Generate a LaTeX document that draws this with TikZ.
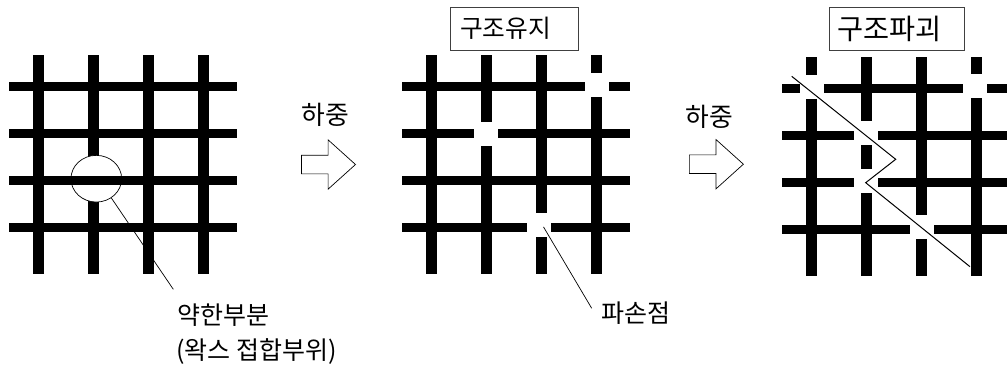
\documentclass[tikz,border=0pt]{standalone}
\usepackage{fontspec}
\setmainfont{Noto Sans CJK KR}
\usepackage{tikz}
\usetikzlibrary{positioning,shapes.arrows,shapes.geometric}
\begin{document}
\begin{tikzpicture}[
  x=1pt, y=-1pt,
  barra/.style={line width=#1, draw=black},
  hueco/.style={fill=white, minimum size=24pt, inner sep=0pt},
  rotulo/.style={font=\fontsize{#1}{#1}\selectfont, inner sep=0pt, anchor=west},
  titulo/.style={draw=black!75, line width=0.8pt, minimum height=43pt, inner sep=0pt,
    font=\fontsize{#1}{#1}\selectfont, align=left},
  flecha/.style={draw=black, line width=0.7pt, fill=white, single arrow, inner sep=0pt,
    minimum height=54pt, minimum width=48.6pt,
    single arrow tip angle=84, single arrow head indent=0pt, single arrow head extend=15.3pt},
  guia/.style={draw=black, line width=0.7pt},
  verticales/.pic={
    \foreach \x in {29.5,84.5,139.5,194.5}
      \draw[barra=11pt] (\x,0) -- (\x,219);
  },
  horizontales/.pic={
    \foreach \y in {31,78,125,172}
      \draw[barra=9pt] (0,\y) -- (#1,\y);
  }
]
\useasboundingbox (0,0) rectangle (1007,365);

% sano
\pic at (9,55) {verticales};
\node[draw=black, line width=0.7pt, fill=white, ellipse, inner sep=0pt,
  minimum width=50.7pt, minimum height=46.7pt] (debil) at (96.3,178.7) {};
\pic at (9,55) {horizontales=228};

% structure kept
\pic at (402,55) {verticales};
\pic at (402,55) {horizontales=228};
\node[hueco] (h1) at (597,85) {};
\node[hueco] (h2) at (486,134) {};
\node[hueco] (h3) at (539,224.5) {};

% structure broken
\pic at (782,57) {verticales};
\pic at (782,57) {horizontales=225};
\node[hueco] (r1) at (812,86.5) {};
\node[hueco] (r2) at (866,133) {};
\node[hueco] (r3) at (866,181) {};
\node[hueco] (r4) at (922,227) {};
\node[hueco] (r5) at (975,85.7) {};

% grieta
\coordinate (g1) at (791.7,76.3);
\coordinate (g2) at (895.7,159.3);
\coordinate (g3) at (865.7,182.7);
\coordinate (g4) at (970,266.7);
\draw[guia, line width=1pt] (g1) -- (g2) -- (g3) -- (g4);

% flechas
\node[flecha] (f1) at (323.3,164.5) {\rule{0pt}{18pt}};
\node[flecha] (f2) at (711.2,164.2) {\rule{0pt}{18pt}};
\node[rotulo=25.8] (c1) at (301.5,115) {하중};
\node[rotulo=25.8] (c2) at (685.7,116.5) {하중};

% titulos
\node[titulo=24.7, minimum width=128.3pt, text width=108pt] (t1) at (514.2,28.7) {구조유지};
\node[titulo=28.3, minimum width=134.3pt, text width=118pt] (t2) at (896.8,29.3) {구조파괴};

% notas
\node[rotulo=25] (n1) at (177.5,315) {약한부분};
\node[rotulo=25] (n2) at (176,352) {(왁스 접합부위)};
\node[rotulo=25] (n3) at (601.5,313) {파손점};
\coordinate (finA) at (173.3,289.3);
\coordinate (finB) at (591.7,308.3);
\draw[guia] (debil.-52) -- (finA);
\draw[guia] (h3.south east) ++(-7.7,-9.8) -- (finB);
\end{tikzpicture}
\end{document}
